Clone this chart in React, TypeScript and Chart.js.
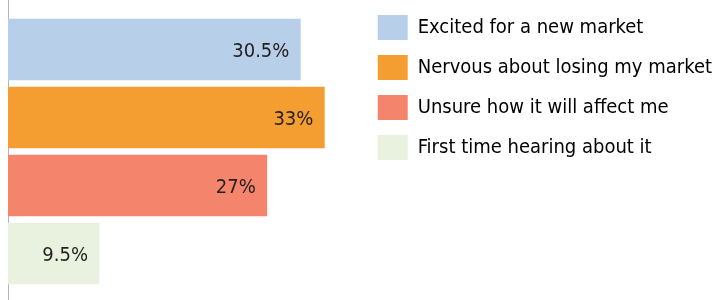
import React, { useEffect, useRef } from 'react';
import { Chart, registerables } from 'chart.js';
Chart.register(...registerables);

const categories = [
  'Excited for a new market',
  'Nervous about losing my market',
  'Unsure how it will affect me',
  'First time hearing about it',
];
const values = [30.5, 33, 27, 9.5];
const valueLabels = ['30.5%', '33%', '27%', '9.5%'];
const colors = ['#b7cfe9', '#f49e31', '#f5846d', '#e9f2df'];

const FONT = "'Liberation Sans Narrow', 'DejaVu Sans Condensed', 'Arial Narrow', sans-serif";

export default function App() {
  const ref = useRef<HTMLCanvasElement>(null);
  useEffect(() => {
    document.body.style.margin = '0';
    const labelPlugin = {
      id: 'barLabels',
      afterDatasetsDraw(chart: any) {
        const ctx = chart.ctx;
        const meta = chart.getDatasetMeta(0);
        ctx.save();
        ctx.font = `20px ${FONT}`;
        ctx.fillStyle = '#231f20';
        ctx.textAlign = 'right';
        ctx.textBaseline = 'middle';
        meta.data.forEach((bar: any, i: number) => {
          ctx.fillText(valueLabels[i], bar.x - 11, bar.y + 2);
        });
        ctx.restore();
      },
    };
    const chart = new Chart(ref.current as HTMLCanvasElement, {
      type: 'bar',
      data: {
        labels: categories,
        datasets: [
          {
            data: values.map((v, i) => ({ x: v, y: i })) as any,
            backgroundColor: colors,
            borderWidth: 0,
            barThickness: 61,
          },
        ],
      },
      options: {
        indexAxis: 'y',
        animation: false,
        responsive: true,
        maintainAspectRatio: false,
        layout: { padding: { left: 8, right: -7, top: 0, bottom: 0 } },
        scales: {
          x: { type: 'linear', min: 0, max: 37, display: false },
          y: {
            type: 'linear',
            reverse: true,
            bounds: 'data',
            min: -0.728,
            max: 3.684,
            ticks: { display: false },
            grid: { display: false, drawTicks: false, tickLength: 0 },
            border: { display: true, color: '#b5b5b5', width: 1 },
            afterBuildTicks: (s: any) => {
              s.ticks = [];
            },
          },
        },
        plugins: {
          legend: {
            position: 'right',
            align: 'start',
            maxWidth: 420,
            onClick: () => {},
            labels: {
              boxWidth: 30,
              boxHeight: 25,
              padding: 15,
              color: '#231f20',
              font: { family: FONT, size: 20 },
              generateLabels: () =>
                categories.map((c, i) => ({
                  text: c,
                  fillStyle: colors[i],
                  strokeStyle: colors[i],
                  lineWidth: 0,
                  hidden: false,
                  index: i,
                  datasetIndex: 0,
                })),
            },
          },
          tooltip: { enabled: false },
        },
      } as any,
      plugins: [labelPlugin],
    });
    return () => chart.destroy();
  }, []);
  return (
    <div style={{ position: 'relative', width: 715, height: 300 }}>
      <canvas ref={ref} />
    </div>
  );
}
